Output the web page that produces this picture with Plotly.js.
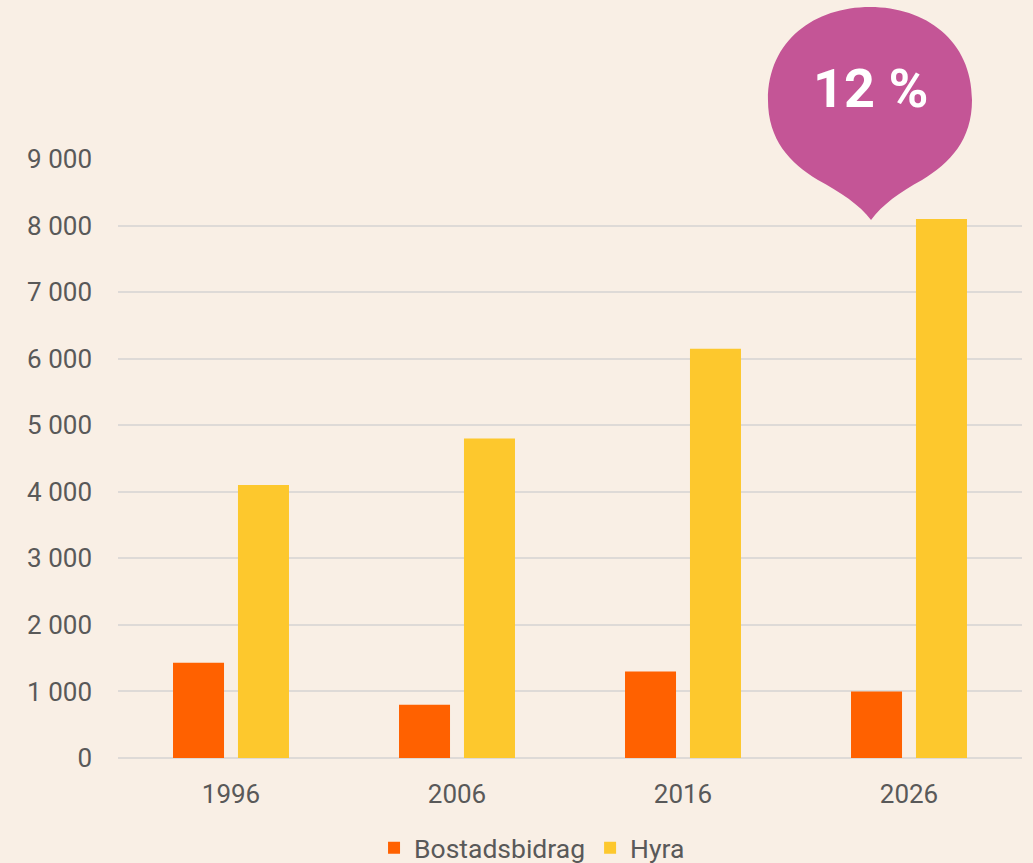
<!DOCTYPE html>
<html>
<head>
<meta charset="utf-8">
<script src="https://cdn.plot.ly/plotly-3.0.1.min.js"></script>
<style>
html,body{margin:0;padding:0;background:#F9EFE5;}
#chart{width:1033px;height:863px;}
</style>
</head>
<body>
<div id="chart"></div>
<script>
const years = ['1996', '2006', '2016', '2026'];
const bostadsbidrag = [1430, 800, 1300, 1000];
const hyra = [4100, 4800, 6150, 8100];
const tickVals = [0, 1000, 2000, 3000, 4000, 5000, 6000, 7000, 8000, 9000];
const tickText = ['0', '1 000', '2 000', '3 000', '4 000', '5 000', '6 000', '7 000', '8 000', '9 000'];
const bubbleLabel = '12 %';

const W = 1033, H = 863;
const M = {l: 118, r: 11, t: 159, b: 105, autoexpand: false};
const pw = W - M.l - M.r, ph = H - M.t - M.b;
function px(x){ return ((x - M.l) / pw).toFixed(4); }
function py(y){ return ((H - M.b - y) / ph).toFixed(4); }
function P(x, y){ return px(x) + ',' + py(y); }

const bubblePath =
  'M ' + P(871,220) +
  ' C ' + P(860,205) + ' ' + P(840,192) + ' ' + P(818,180) +
  ' C ' + P(790,163) + ' ' + P(768,140) + ' ' + P(768,100) +
  ' C ' + P(768,40) + ' ' + P(815,7) + ' ' + P(870,7) +
  ' C ' + P(925,7) + ' ' + P(972,40) + ' ' + P(972,100) +
  ' C ' + P(972,140) + ' ' + P(950,163) + ' ' + P(922,180) +
  ' C ' + P(900,192) + ' ' + P(882,205) + ' ' + P(871,220) + ' Z';

const fam = 'Roboto, "Open Sans", sans-serif';
const txtColor = '#595959';

const traces = [
  {type: 'bar', name: 'Bostadsbidrag', x: years, y: bostadsbidrag,
   marker: {color: '#FF6100'}, hoverinfo: 'skip'},
  {type: 'bar', name: 'Hyra', x: years, y: hyra,
   marker: {color: '#FDC82D'}, hoverinfo: 'skip'}
];

const layout = {
  width: W, height: H,
  margin: M,
  paper_bgcolor: '#F9EFE5',
  plot_bgcolor: '#F9EFE5',
  barmode: 'group',
  bargap: 0.425,
  bargroupgap: 0.215,
  font: {family: fam, color: txtColor, size: 26},
  showlegend: true,
  legend: {orientation: 'h', x: px(532), xanchor: 'center', y: py(848), yanchor: 'middle',
           font: {size: 26.5, color: txtColor}, bgcolor: 'rgba(0,0,0,0)'},
  xaxis: {type: 'category', showgrid: false, zeroline: false, showline: false,
          ticks: '', tickfont: {size: 26, color: txtColor}, ticklabelstandoff: 18},
  yaxis: {range: [0, 9000], tickvals: tickVals, ticktext: tickText,
          showgrid: true, gridcolor: '#DEDAD7', gridwidth: 2,
          zeroline: true, zerolinecolor: '#DEDAD7', zerolinewidth: 2,
          showline: false, ticks: '', tickfont: {size: 26, color: txtColor},
          ticklabelstandoff: 25},
  shapes: [{type: 'path', xref: 'paper', yref: 'paper', path: bubblePath,
            fillcolor: '#C45596', line: {width: 0}, layer: 'above'}],
  annotations: [{xref: 'paper', yref: 'paper', x: px(870), y: py(88),
                 text: '<b>' + bubbleLabel + '</b>', showarrow: false,
                 xanchor: 'center', yanchor: 'middle',
                 font: {family: 'Roboto, sans-serif', size: 54, color: '#FFFFFF'}}]
};

Plotly.newPlot('chart', traces, layout, {displayModeBar: false, staticPlot: true});
</script>
</body>
</html>
